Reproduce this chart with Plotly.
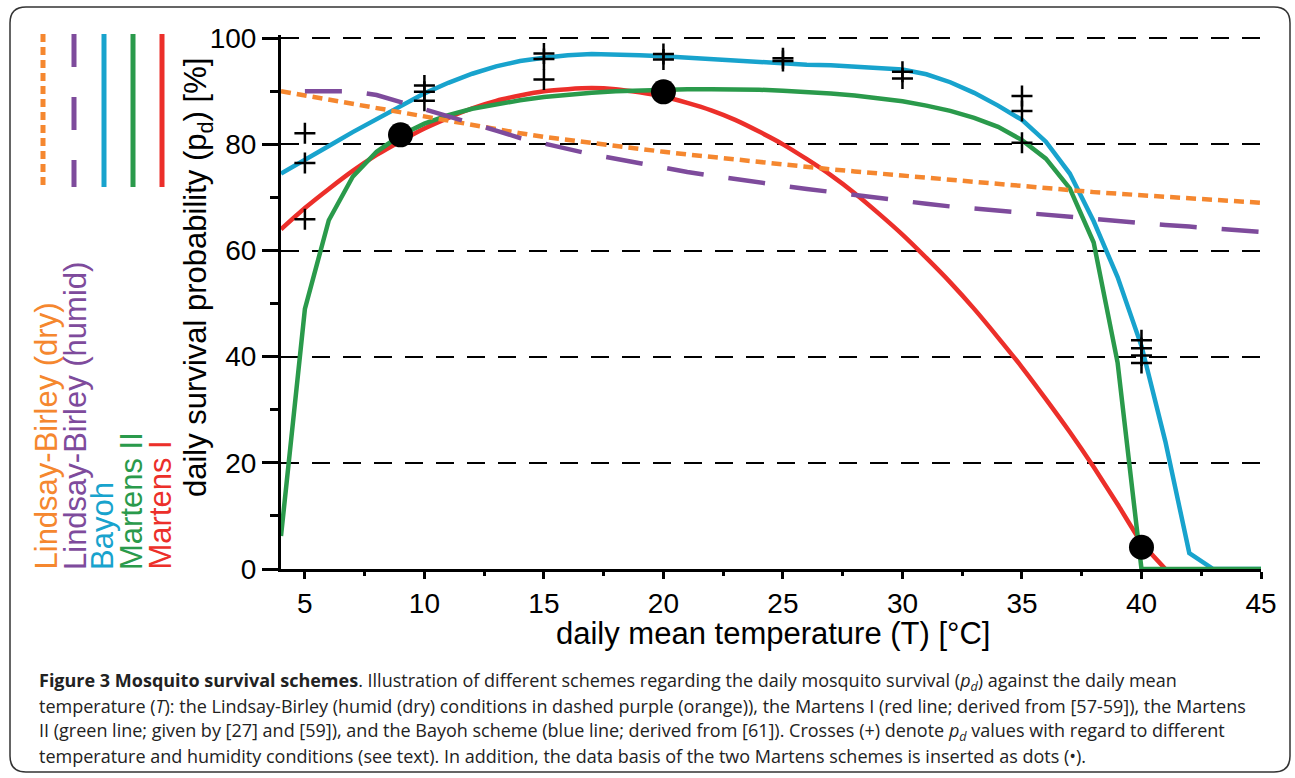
import plotly.graph_objects as go

# ---------------- data ----------------
martens1_T = list(range(4, 42))
martens1 = [64.0, 68.0, 71.6, 75.0, 78.0, 80.6, 83.0, 85.0, 86.8, 88.2, 89.2, 90.0,
            90.4, 90.6, 90.4, 89.8, 89.0, 87.8, 86.4, 84.6, 82.4, 80.0, 77.2, 74.2,
            70.8, 67.0, 63.0, 58.6, 54.0, 49.0, 43.6, 38.0, 32.0, 25.8, 19.2, 12.2,
            5.0, 0.0]

martens2_T = list(range(4, 46))
martens2 = [6.2, 49.0, 65.7, 73.9, 78.6, 81.7, 83.9, 85.5, 86.7, 87.6, 88.3, 88.9,
            89.4, 89.7, 90.0, 90.2, 90.3, 90.4, 90.4, 90.4, 90.3, 90.1, 89.9, 89.6,
            89.2, 88.7, 88.1, 87.3, 86.3, 85.0, 83.3, 80.8, 77.3, 71.7, 61.5, 38.9,
            0.0, 0.0, 0.0, 0.0, 0.0, 0.0]

bayoh_T = list(range(4, 46))
bayoh = [74.5, 77.0, 79.7, 82.3, 84.8, 87.3, 89.6, 91.6, 93.3, 94.7, 95.7, 96.3,
         96.8, 97.0, 97.0, 96.8, 96.6, 96.3, 96.0, 95.7, 95.4, 95.2, 95.0, 94.9,
         94.7, 94.5, 94.1, 93.2, 91.7, 89.7, 87.3, 84.6, 80.5, 74.5, 65.5, 55.0,
         42.0, 24.0, 3.0, 0.0, 0.0, 0.0]

lb_humid_T = list(range(5, 46))
lb_humid = [90.0, 90.0, 90.0, 89.3, 88.0, 86.6, 85.4, 84.0, 82.6, 81.2, 80.2, 79.0,
            78.1, 77.3, 76.4, 75.6, 74.8, 74.1, 73.4, 72.8, 72.2, 71.6, 71.0, 70.4,
            69.8, 69.3, 68.8, 68.3, 67.9, 67.4, 67.0, 66.6, 66.2, 65.8, 65.5, 65.1,
            64.8, 64.5, 64.1, 63.8, 63.5]

lb_dry_T = list(range(4, 46))
lb_dry = [90.0, 89.2, 88.4, 87.6, 86.8, 85.9, 85.1, 84.3, 83.5, 82.8, 82.1, 81.4,
          80.8, 80.2, 79.6, 79.1, 78.6, 78.1, 77.6, 77.1, 76.7, 76.2, 75.8, 75.3,
          74.9, 74.5, 74.0, 73.6, 73.2, 72.8, 72.4, 72.0, 71.7, 71.4, 71.0, 70.7,
          70.4, 70.1, 69.8, 69.5, 69.3, 69.0]

cross_T = [5, 5, 5, 10, 10, 10, 15, 15, 15, 20, 20, 25, 25, 30, 30,
           35, 35, 35, 40, 40, 40, 40]
cross_pd = [82.1, 76.5, 65.9, 91.1, 89.9, 88.2, 97.1, 96.1, 92.2, 97.0, 96.0,
            96.2, 95.7, 93.7, 92.4, 89.1, 86.3, 80.3, 43.1, 41.6, 40.2, 38.8]

dot_T = [9, 20, 40]
dot_pd = [81.8, 89.9, 4.1]

x_ticks = [5, 10, 15, 20, 25, 30, 35, 40, 45]
y_ticks = [0, 20, 40, 60, 80, 100]

legend_names = ["Lindsay-Birley (dry)", "Lindsay-Birley (humid)", "Bayoh",
                "Martens II", "Martens I"]

caption_lines = [
    "<b>Figure 3 Mosquito survival schemes</b>. Illustration of different schemes regarding the daily mosquito survival (<i>p<sub>d</sub></i>) against the daily mean",
    "temperature (<i>T</i>): the Lindsay-Birley (humid (dry) conditions in dashed purple (orange)), the Martens I (red line; derived from [57-59]), the Martens",
    "II (green line; given by [27] and [59]), and the Bayoh scheme (blue line; derived from [61]). Crosses (+) denote <i>p<sub>d</sub></i> values with regard to different",
    "temperature and humidity conditions (see text). In addition, the data basis of the two Martens schemes is inserted as dots (\u2022).",
]

# ---------------- styling ----------------
ORANGE = "#F5872F"
PURPLE = "#7E4B9C"
BLUE = "#18A3CD"
GREEN = "#2A9A4B"
RED = "#EC2F2A"
FONT = "Liberation Sans, Arial, sans-serif"

W, H = 1295, 778
Y_MAX = 100.6
L, R, TOP, BOT = 281, 34, 35, 209
PW, PH = W - L - R, H - TOP - BOT


def X(px):
    return (px - L) / PW


def Y(py):
    return (H - BOT - py) / PH


fig = go.Figure()

fig.add_trace(go.Scatter(x=bayoh_T, y=bayoh, mode="lines",
                         line=dict(color=BLUE, width=4.5), name=legend_names[2]))
fig.add_trace(go.Scatter(x=martens1_T, y=martens1, mode="lines",
                         line=dict(color=RED, width=4.5, shape="spline", smoothing=0.6),
                         name=legend_names[4]))
fig.add_trace(go.Scatter(x=martens2_T, y=martens2, mode="lines",
                         line=dict(color=GREEN, width=4.5), name=legend_names[3]))
fig.add_trace(go.Scatter(x=lb_dry_T, y=lb_dry, mode="lines",
                         line=dict(color=ORANGE, width=4.5, dash="10px,6px"),
                         name=legend_names[0]))
fig.add_trace(go.Scatter(x=lb_humid_T, y=lb_humid, mode="lines",
                         line=dict(color=PURPLE, width=4.5, dash="37px,25px"),
                         name=legend_names[1]))
fig.add_trace(go.Scatter(x=cross_T, y=cross_pd, mode="markers",
                         marker=dict(symbol="cross-thin", size=15, color="black",
                                     line=dict(color="black", width=2.5)),
                         name="crosses", cliponaxis=False))
fig.add_trace(go.Scatter(x=dot_T, y=dot_pd, mode="markers",
                         marker=dict(symbol="circle", size=25, color="black"),
                         name="Martens data", cliponaxis=False))

fig.update_layout(
    width=W, height=H,
    margin=dict(l=L, r=R, t=TOP, b=BOT, pad=0),
    paper_bgcolor="white", plot_bgcolor="white",
    showlegend=False,
    font=dict(family=FONT, color="black"),
    xaxis=dict(range=[4, 45], tickvals=x_ticks, ticks="outside", ticklen=7,
               tickwidth=2.5, tickcolor="black", showline=True, linecolor="black",
               linewidth=3, showgrid=False, zeroline=False,
               tickfont=dict(size=28, family=FONT),
               minor=dict(tickvals=[7.5, 12.5, 17.5, 22.5, 27.5, 32.5, 37.5, 42.5],
                          ticks="outside", ticklen=4, tickwidth=2.5, tickcolor="black")),
    yaxis=dict(range=[0, Y_MAX], tickvals=y_ticks, ticks="outside", ticklen=16,
               tickwidth=2.5, tickcolor="black", showline=True, linecolor="black",
               linewidth=3, showgrid=True, gridcolor="black", gridwidth=2,
               griddash="18px,13px", zeroline=False,
               tickfont=dict(size=28, family=FONT),
               minor=dict(tickvals=[10, 30, 50, 70, 90], ticks="outside", ticklen=8,
                          tickwidth=2.5, tickcolor="black", showgrid=False)),
)

ann = []
# axis titles
ann.append(dict(text="daily mean temperature (T) [\u00b0C]", x=X(773), y=Y(633),
                xref="paper", yref="paper", xanchor="center", yanchor="middle",
                showarrow=False, font=dict(size=31, family=FONT)))
ann.append(dict(text="daily survival probability (p<sub>d</sub>) [%]", x=X(198), y=Y(278),
                xref="paper", yref="paper", xanchor="center", yanchor="middle",
                textangle=-90, showarrow=False, font=dict(size=31, family=FONT)))

# legend (rotated labels + vertical line samples)
leg_colors = [ORANGE, PURPLE, BLUE, GREEN, RED]
leg_dash = ["8px,5px", "33px,30px", "solid", "solid", "solid"]
leg_text_x = [46, 75, 102, 131, 160]
leg_line_x = [43, 74, 104, 133, 162]
shapes = []
for name, c, d, tx, lx in zip(legend_names, leg_colors, leg_dash, leg_text_x, leg_line_x):
    ann.append(dict(text=name, x=X(tx), y=Y(572), xref="paper", yref="paper",
                    xanchor="center", yanchor="bottom", textangle=-90,
                    showarrow=False, font=dict(size=31, family=FONT, color=c)))
    shapes.append(dict(type="line", xref="paper", yref="paper",
                       x0=X(lx), x1=X(lx), y0=Y(34), y1=Y(187),
                       line=dict(color=c, width=5, dash=d)))

# caption
for i, line in enumerate(caption_lines):
    ann.append(dict(text=line, x=X(37), y=Y(681 + 25 * i), xref="paper", yref="paper",
                    xanchor="left", yanchor="middle", showarrow=False,
                    font=dict(size=18, family="Open Sans, Noto Sans, sans-serif",
                              color="#222222")))

# rounded border
x0, x1, y0, y1, r = X(10), X(1290), Y(7), Y(772), 16
rx, ry = r / PW, r / PH
path = (f"M {x0 + rx},{y0} L {x1 - rx},{y0} Q {x1},{y0} {x1},{y0 - ry} "
        f"L {x1},{y1 + ry} Q {x1},{y1} {x1 - rx},{y1} "
        f"L {x0 + rx},{y1} Q {x0},{y1} {x0},{y1 + ry} "
        f"L {x0},{y0 - ry} Q {x0},{y0} {x0 + rx},{y0} Z")
shapes.append(dict(type="path", xref="paper", yref="paper", path=path,
                   line=dict(color="#333333", width=1.5)))

fig.update_layout(annotations=ann, shapes=shapes)

fig.write_html("out.html", config={"displayModeBar": False},
               post_script="document.body.style.margin='0';")
